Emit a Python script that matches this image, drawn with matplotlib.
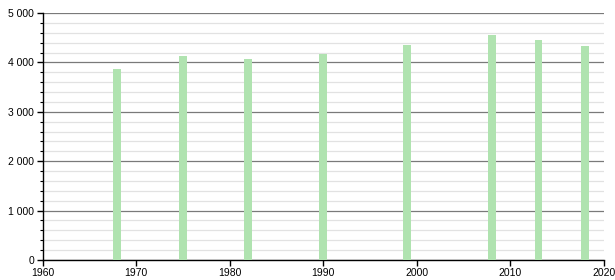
import matplotlib
matplotlib.use("Agg")
import matplotlib.pyplot as plt
from matplotlib.ticker import MultipleLocator, FuncFormatter

years = [1968, 1975, 1982, 1990, 1999, 2008, 2013, 2018]
population = [3866, 4130, 4068, 4170, 4352, 4555, 4453, 4332]
x_ticks = [1960, 1970, 1980, 1990, 2000, 2010, 2020]

plt.rcParams['font.family'] = ['Liberation Sans', 'DejaVu Sans']

fig = plt.figure(figsize=(6.15, 2.8), dpi=100)
ax = fig.add_axes([42.5/615, 1-260/280, (604-42.5)/615, (260-13)/280])

ax.set_xlim(1960, 2020)
ax.set_ylim(0, 5000)

ax.yaxis.set_major_locator(MultipleLocator(1000))
ax.yaxis.set_minor_locator(MultipleLocator(200))
ax.set_xticks(x_ticks)
ax.yaxis.set_major_formatter(FuncFormatter(lambda v, p: f"{int(v):,}".replace(",", " ")))

ax.grid(which='minor', axis='y', color='#e2e2e2', linewidth=0.9)
ax.grid(which='major', axis='y', color='#7a7a7a', linewidth=0.9)
ax.set_axisbelow(True)

ax.bar(years, population, width=0.85, color='#b0e3b0', zorder=3)

for s in ['top', 'right']:
    ax.spines[s].set_visible(False)
for s in ['left', 'bottom']:
    ax.spines[s].set_linewidth(1.0)
    ax.spines[s].set_color('black')

ax.tick_params(axis='both', which='major', direction='out', length=4, width=1, labelsize=7.5, pad=2)
ax.tick_params(axis='y', which='minor', direction='out', length=2.5, width=0.8)

fig.savefig('out.png', dpi=100)
